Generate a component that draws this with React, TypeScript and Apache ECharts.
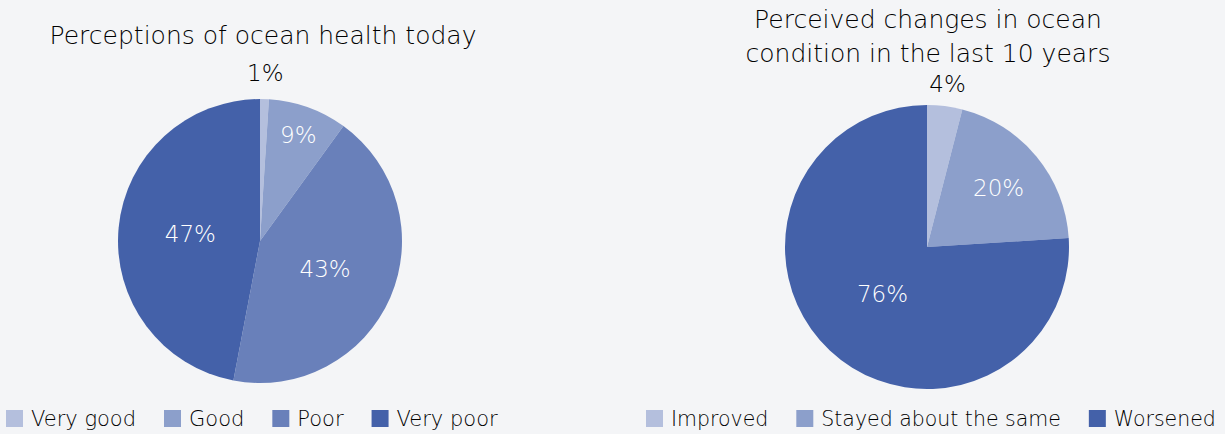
import React, { useEffect, useRef } from "react";
import * as echarts from "echarts";

// ---- Data ----
const healthCategories = ["Very good", "Good", "Poor", "Very poor"];
const healthValues = [1, 9, 43, 47];
const changeCategories = ["Improved", "Stayed about the same", "Worsened"];
const changeValues = [4, 20, 76];

const healthTitle = "Perceptions of ocean health today";
const changeTitleLines = ["Perceived changes in ocean", "condition in the last 10 years"];

// ---- Styles ----
const FONT = "'DejaVu Sans', sans-serif";
const WEIGHT = 200;
const TEXT = "#000";
const BG = "#F4F5F7";
const healthColors = ["#B4BFDD", "#8C9FCB", "#6980BA", "#4461A9"];
const changeColors = ["#B4BFDD", "#8C9FCB", "#4461A9"];
const RADIUS = 142;
const leftCenter = [260, 241];
const rightCenter = [927, 247];
// label distance from pie centre, in px, per slice
const healthLabelR = [165, 110, 68, 67];
const changeLabelR = [161, 90, 62];
const healthLabelColor = [TEXT, "#fff", "#fff", "#fff"];
const changeLabelColor = [TEXT, "#fff", "#fff"];

function buildPie(
  cats: string[],
  vals: number[],
  colors: string[],
  center: number[],
  labelR: number[],
  labelColors: string[]
) {
  const main = {
    type: "pie",
    center,
    radius: [0, RADIUS],
    startAngle: 90,
    clockwise: true,
    silent: true,
    label: { show: false },
    labelLine: { show: false },
    data: cats.map((c, i) => ({ name: c, value: vals[i], itemStyle: { color: colors[i] } })),
  };
  const overlays = cats.map((_, k) => ({
    type: "pie",
    center,
    radius: [labelR[k] - 1, labelR[k] + 1],
    startAngle: 90,
    clockwise: true,
    silent: true,
    legendHoverLink: false,
    itemStyle: { color: "rgba(0,0,0,0)" },
    labelLine: { show: false },
    data: cats.map((c, i) => ({
      name: c,
      value: vals[i],
      itemStyle: { color: "rgba(0,0,0,0)" },
      label: {
        show: i === k,
        position: "inside",
        formatter: "{c}%",
        color: labelColors[i],
        fontSize: 23,
        fontWeight: WEIGHT,
        fontFamily: FONT,
      },
    })),
  }));
  return [main, ...overlays];
}

export default function App() {
  const ref = useRef<HTMLDivElement>(null);
  useEffect(() => {
    document.body.style.margin = "0";
    const chart = echarts.init(ref.current!, null, { renderer: "svg" });
    const legendBase = {
      orient: "horizontal",
      top: 408,
      padding: 0,
      itemWidth: 17,
      itemHeight: 17,
      itemGap: 28,
      icon: "rect",
      selectedMode: false,
    };
    const legendText = (size: number) => ({
      fontSize: size,
      fontWeight: WEIGHT,
      fontFamily: FONT,
      color: TEXT,
      padding: [0, 0, 0, 3],
    });
    const titleStyle = {
      fontSize: 25,
      fontWeight: WEIGHT,
      fontFamily: FONT,
      fill: TEXT,
      align: "center",
      verticalAlign: "middle",
    };
    chart.setOption({
      animation: false,
      backgroundColor: BG,
      legend: [
        { ...legendBase, left: 6, data: healthCategories, textStyle: legendText(21) },
        { ...legendBase, left: 646, data: changeCategories, textStyle: legendText(20.5) },
      ],
      graphic: [
        { type: "text", x: 263, y: 35, style: { ...titleStyle, text: healthTitle } },
        ...changeTitleLines.map((t, i) => ({
          type: "text",
          x: 928,
          y: 19 + i * 34,
          style: { ...titleStyle, text: t },
        })),
      ],
      series: [
        ...buildPie(healthCategories, healthValues, healthColors, leftCenter, healthLabelR, healthLabelColor),
        ...buildPie(changeCategories, changeValues, changeColors, rightCenter, changeLabelR, changeLabelColor),
      ],
    });
    return () => chart.dispose();
  }, []);
  return <div ref={ref} style={{ width: 1225, height: 434 }} />;
}
